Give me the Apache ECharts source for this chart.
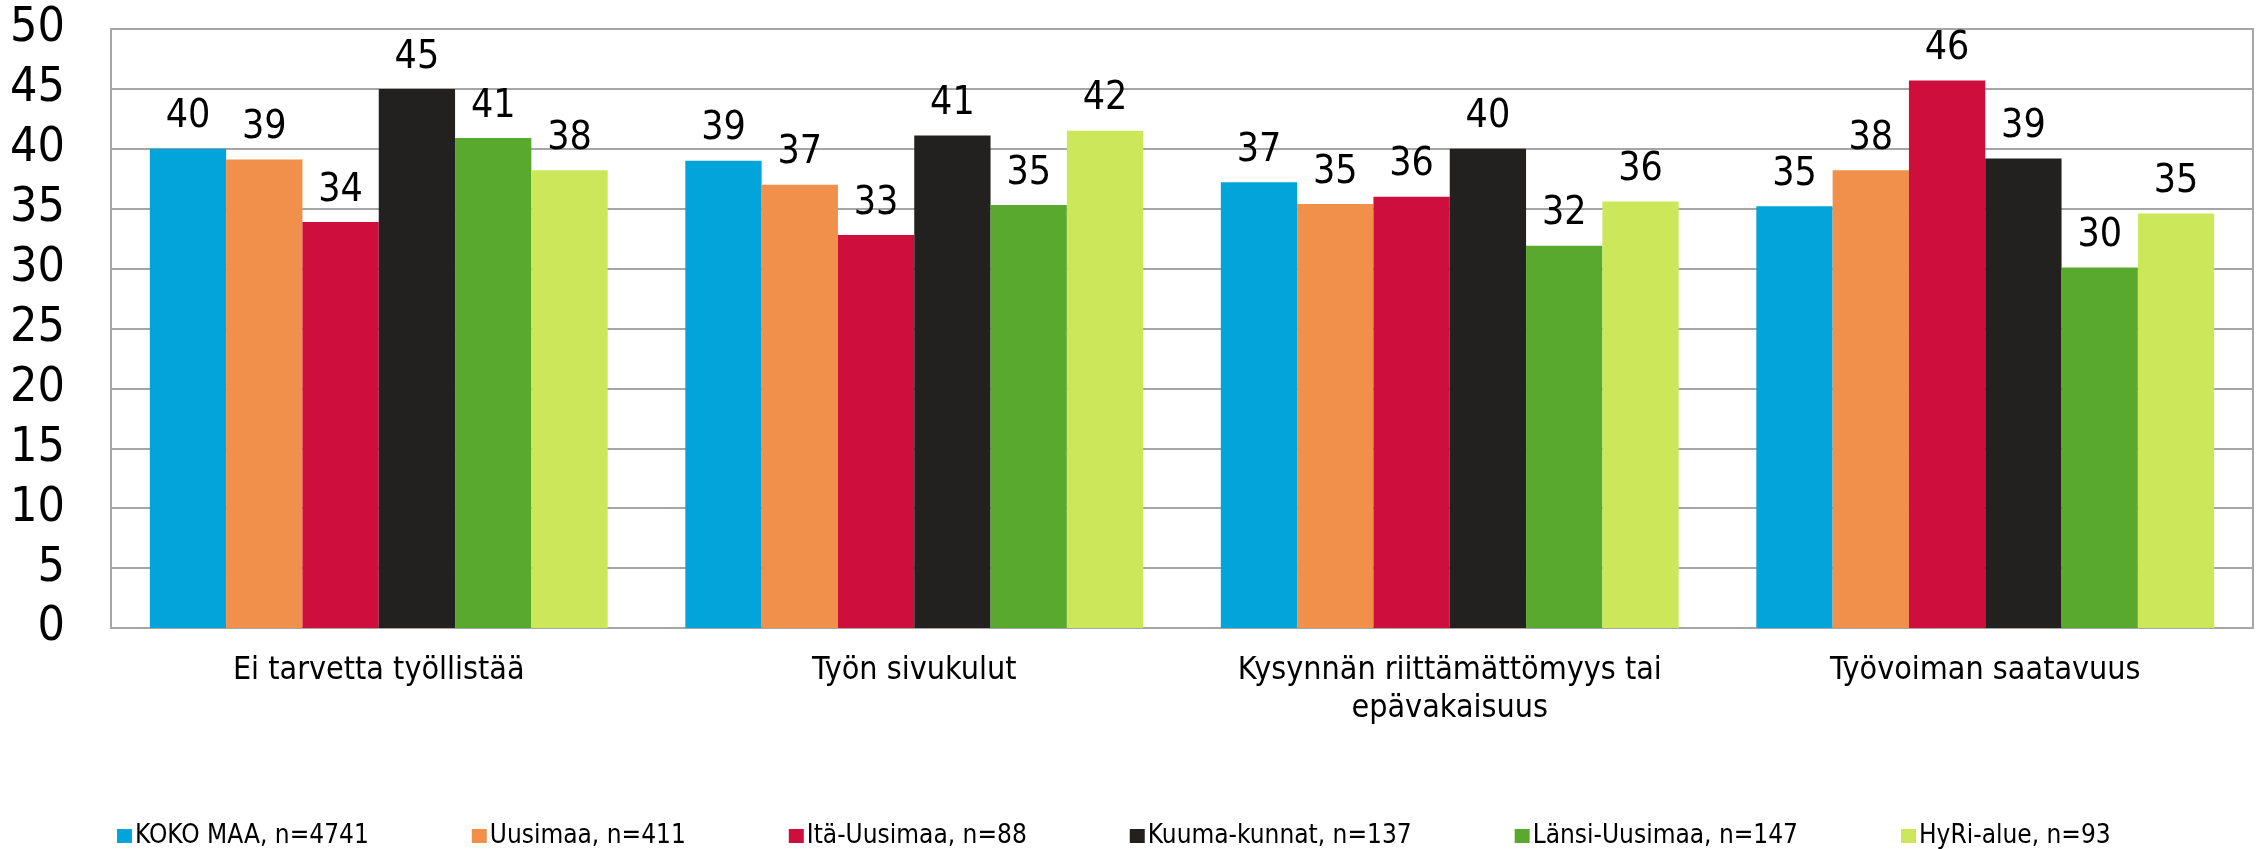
<!DOCTYPE html>
<html>
<head>
<meta charset="utf-8">
<script src="https://cdn.jsdelivr.net/npm/echarts@6/dist/echarts.min.js"></script>
<style>
  html, body { margin: 0; padding: 0; background: #fff; }
  #chart { width: 2257px; height: 849px; }
</style>
</head>
<body>
<div id="chart"></div>
<script>
let categories = [
    'Ei tarvetta työllistää',
    'Työn sivukulut',
    'Kysynnän riittämättömyys tai\nepävakaisuus',
    'Työvoiman saatavuus'
];

let seriesNames = [
    'KOKO MAA, n=4741',
    'Uusimaa, n=411',
    'Itä-Uusimaa, n=88',
    'Kuuma-kunnat, n=137',
    'Länsi-Uusimaa, n=147',
    'HyRi-alue, n=93'
];

let kokoMaa = [40.0, 39.0, 37.2, 35.2];
let uusimaa = [39.1, 37.0, 35.4, 38.2];
let itaUusimaa = [33.9, 32.8, 36.0, 45.7];
let kuumaKunnat = [45.0, 41.1, 40.0, 39.2];
let lansiUusimaa = [40.9, 35.3, 31.9, 30.1];
let hyriAlue = [38.2, 41.5, 35.6, 34.6];

let colors = ['#02a4d9', '#f0904a', '#ce0f3e', '#222120', '#58a92d', '#cde75a'];

let font = '"DejaVu Sans Condensed", "DejaVu Sans", sans-serif';

let chart = echarts.init(document.getElementById('chart'));

let values = [kokoMaa, uusimaa, itaUusimaa, kuumaKunnat, lansiUusimaa, hyriAlue];

let option = {
    animation: false,
    color: colors,
    textStyle: { fontFamily: font, color: '#000' },
    grid: {
        left: 111,
        right: 4,
        top: 29,
        bottom: 221,
        show: true,
        borderColor: '#a6a6a6',
        borderWidth: 2
    },
    legend: {
        data: seriesNames,
        top: 818,
        left: 112,
        itemWidth: 15,
        itemHeight: 14,
        itemGap: 103,
        icon: 'rect',
        textStyle: { fontFamily: font, fontSize: 26, color: '#000', padding: [0, 0, 0, -2] }
    },
    xAxis: {
        type: 'category',
        data: categories,
        axisLine: { lineStyle: { color: '#a6a6a6', width: 2 } },
        axisTick: { show: false },
        axisLabel: {
            interval: 0,
            fontFamily: font,
            fontSize: 32,
            color: '#000',
            margin: 24,
            lineHeight: 38
        }
    },
    yAxis: {
        type: 'value',
        min: 0,
        max: 50,
        interval: 5,
        axisLine: { show: true, lineStyle: { color: '#a6a6a6', width: 2 } },
        axisTick: { show: false },
        axisLabel: { fontFamily: font, fontSize: 48, color: '#000', margin: 46 },
        splitLine: { lineStyle: { color: '#a6a6a6', width: 2 } }
    },
    series: seriesNames.map((name, i) => ({
        name: name,
        type: 'bar',
        data: values[i],
        barGap: '0%',
        barCategoryGap: '14.5%',
        label: {
            show: true,
            position: 'top',
            distance: 12,
            fontFamily: font,
            fontSize: 39,
            color: '#000',
            formatter: (p) => Math.round(p.value)
        }
    }))
};

chart.setOption(option);
</script>
</body>
</html>
